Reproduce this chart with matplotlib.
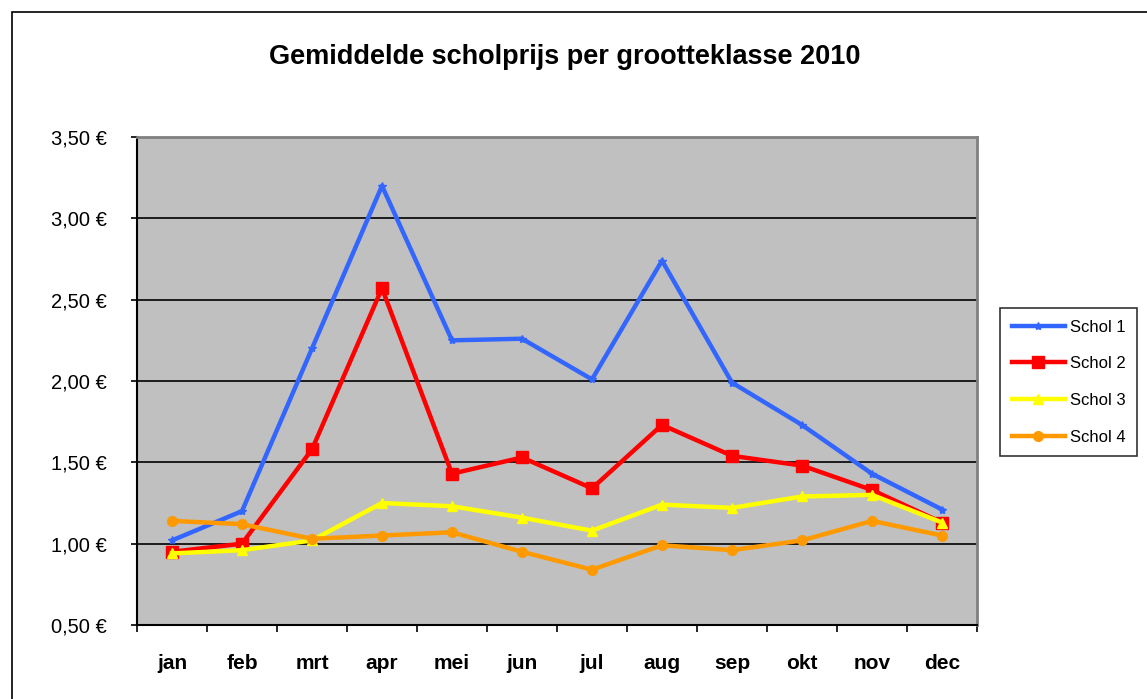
import matplotlib
matplotlib.use("Agg")
import matplotlib.pyplot as plt
from matplotlib.patches import Rectangle
from matplotlib.ticker import FixedLocator, NullFormatter

plt.rcParams['font.family'] = ['Liberation Sans', 'DejaVu Sans']

# Data
maanden = ['jan', 'feb', 'mrt', 'apr', 'mei', 'jun', 'jul', 'aug', 'sep', 'okt', 'nov', 'dec']
schol_1 = [1.02, 1.20, 2.20, 3.20, 2.25, 2.26, 2.01, 2.74, 1.99, 1.73, 1.43, 1.21]
schol_2 = [0.95, 1.00, 1.58, 2.57, 1.43, 1.53, 1.34, 1.73, 1.54, 1.48, 1.33, 1.13]
schol_3 = [0.94, 0.96, 1.02, 1.25, 1.23, 1.16, 1.08, 1.24, 1.22, 1.29, 1.30, 1.13]
schol_4 = [1.14, 1.12, 1.03, 1.05, 1.07, 0.95, 0.84, 0.99, 0.96, 1.02, 1.14, 1.05]
y_ticks = [0.5, 1.0, 1.5, 2.0, 2.5, 3.0, 3.5]

fig = plt.figure(figsize=(11.47, 6.99), dpi=100)
fig.patch.set_facecolor('white')

# outer chart border
fig.add_artist(Rectangle((12 / 1147, -0.01), 1.02, 1 - 12 / 699 + 0.01,
                         transform=fig.transFigure, fill=False,
                         edgecolor='black', linewidth=1.2))

ax = fig.add_axes([137 / 1147, 74 / 699, 840 / 1147, 488 / 699])
ax.set_facecolor('#c0c0c0')

x = list(range(len(maanden)))
series = [
    ('Schol 1', schol_1, '#3366ff', '*', 6),
    ('Schol 2', schol_2, '#ff0000', 's', 8),
    ('Schol 3', schol_3, '#ffff00', '^', 7),
    ('Schol 4', schol_4, '#ff9900', 'o', 7),
]
for name, vals, col, mk, ms in series:
    ax.plot(x, vals, color=col, linewidth=3.2, marker=mk, markersize=ms,
            label=name, zorder=3)

ax.set_xlim(-0.5, 11.5)
ax.set_ylim(0.5, 3.5)
ax.set_yticks(y_ticks)
ax.set_yticklabels([f'{v:.2f} €'.replace('.', ',') for v in y_ticks], fontsize=14.5)
ax.yaxis.grid(True, color='black', linewidth=1.2)
ax.set_axisbelow(True)

ax.set_xticks(x)
ax.set_xticklabels(maanden, fontsize=15, fontweight='bold')
ax.tick_params(axis='x', which='major', length=0, pad=21)
ax.xaxis.set_minor_locator(FixedLocator([i - 0.5 for i in range(13)]))
ax.xaxis.set_minor_formatter(NullFormatter())
ax.tick_params(axis='x', which='minor', length=5, width=1.2, direction='out')
ax.tick_params(axis='y', length=4.5, width=1.2, direction='out', pad=17)

for side in ['top', 'right']:
    ax.spines[side].set_color('#808080')
    ax.spines[side].set_linewidth(2)
for side in ['left', 'bottom']:
    ax.spines[side].set_color('black')
    ax.spines[side].set_linewidth(1.5)

fig.text(565 / 1147, 1 - 57 / 699, 'Gemiddelde scholprijs per grootteklasse 2010',
         ha='center', va='center', fontsize=19.5, fontweight='bold')

leg = ax.legend(loc='center left', bbox_to_anchor=(1000 / 1147, 1 - 382 / 699),
                bbox_transform=fig.transFigure, fontsize=12, frameon=True,
                fancybox=False, edgecolor='black', borderpad=0.7,
                labelspacing=1.3, handlelength=3.2, handletextpad=0.3,
                borderaxespad=0)
leg.get_frame().set_linewidth(1.2)

fig.savefig('out.png', dpi=100)
